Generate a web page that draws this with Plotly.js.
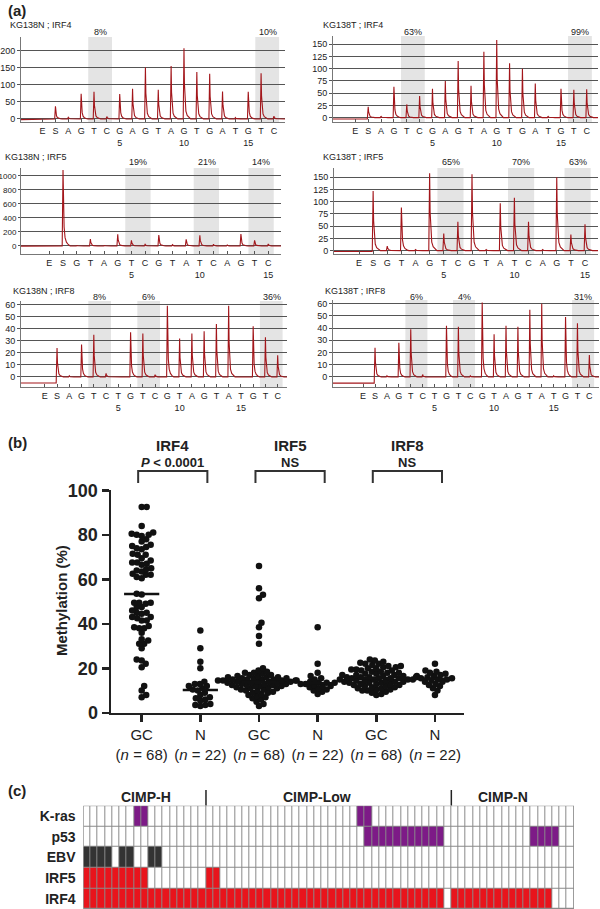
<!DOCTYPE html>
<html><head><meta charset="utf-8">
<script src="https://cdn.plot.ly/plotly-3.0.1.min.js"></script>
<style>html,body{margin:0;padding:0;background:#fff}#chart{width:600px;height:909px}</style>
</head><body><div id="chart"></div>
<script>
// ================= DATA =================
// Panel (a): pyrosequencing dispensation orders
const seqIRF4 = ['E','S','A','G','T','C','G','A','G','T','A','G','T','G','A','T','G','T','C'];
const seqIRF5 = ['E','S','G','T','A','G','T','C','G','T','A','T','C','A','G','T','C'];
const seqIRF8 = ['E','S','A','G','T','C','T','G','T','C','G','T','A','G','T','A','T','G','T','C'];
// peak heights per dispensation
const peaksN_IRF4 = [0,37,5,74,80,7,73,89,151,86,156,208,138,133,81,4,80,134,8];
const peaksT_IRF4 = [0,22,3,63,27,44,59,75,116,65,135,159,111,100,70,3,59,57,58];
const peaksN_IRF5 = [0,1080,10,100,10,165,80,24,156,19,95,152,24,14,170,80,28];
const peaksT_IRF5 = [0,122,9,88,2,158,35,59,156,2,97,108,59,2,150,33,54];
const peaksN_IRF8 = [0,24,1,27,35,3,0,37,36,2,59,32,36,38,44,59,0,42,33,18];
const peaksT_IRF8 = [0,24,1,28,39,2,0,42,41,1,61,35,42,41,55,60,1,49,44,18];
// baseline level before the substrate peak
const preBase = [-2,-3,-1.5,-2,-5,-5];
// CpG sites (first, last dispensation index) shaded
const cpgIRF4 = [[4,5],[17,18]];
const cpgIRF5 = [[6,7],[11,12],[15,16]];
const cpgIRF8 = [[4,5],[8,9],[18,19]];
const pctN_IRF4 = ['8%','10%'];
const pctT_IRF4 = ['63%','99%'];
const pctN_IRF5 = ['19%','21%','14%'];
const pctT_IRF5 = ['65%','70%','63%'];
const pctN_IRF8 = ['8%','6%','36%'];
const pctT_IRF8 = ['6%','4%','31%'];

// Panel (b): methylation (%)
const groupLabels = ['GC','N','GC','N','GC','N'];
const groupN = [68,22,68,22,68,22];
const geneLabels = ['IRF4','IRF5','IRF8'];
const geneTests = ['<i>P</i> < 0.0001','NS','NS'];
const irf4GC = [92.5,92.5,84,81,80.5,80,80,79.5,78,77,75.5,75,74.5,74,73.5,71.5,71,71,69.5,68.5,67.5,67.5,67,66.5,65,64.5,64,63.5,62.5,62,62,61,60.5,
  53.5,53.2,
  49.5,49.5,49.5,49,47.5,47.5,46,45,45,44.5,43,43,42.5,41.5,41.5,39,38.5,38,38,36,33,32.5,31,31,29,24,23.5,22,20.5,12,10,8,7];
const irf4N = [37,29,23,20,14,13,13,12,12,11,10.5,10,9,8,7,6.5,6,5.5,4,3.5,3.5,3];
const irf5GC = [66,56,53,51.5,40.5,38.5,34.5,31,
  20,19,18.5,18,18,17.5,17,17,16.5,16.5,16,16,16,15.5,15.5,15.5,15,15,15,15,14.5,14.5,14.5,14.5,14,14,
  14,14,13.5,13.5,13.5,13,13,13,12.5,12.5,12.5,12,12,12,11.5,11.5,11,11,10.5,10.5,10,10,9.5,9,9,8.5,8,7.5,7,6.5,6,5,4,3];
const irf5N = [38.5,22,18,16.5,15.5,15,14.5,14,13.5,13.5,13.5,13,13,12.5,12,12,11.5,11,10.5,10,9.5,8.5];
const irf8GC = [24,23.5,23,22.5,22,22,21.5,21,21,20.5,20.5,20,20,19.5,19.5,19,19,18.5,18.5,18,18,17.5,17.5,17,17,17,16.5,16.5,16.5,16,16,16,15.5,15.5,
  15.5,15.5,15,15,15,15,14.5,14.5,14.5,14,14,14,13.5,13.5,13.5,13,13,13,12.5,12.5,12,12,11.5,11.5,11,11,10.5,10.5,10,10,9.5,9,8.5,8];
const irf8N = [22,19,18.5,18,17.5,17,16.5,16,16,15.5,15.5,15,15,14.5,14,14,13,12.5,12,11,10,8];

// Panel (c): sample status grid (68 GC samples)
const rowLabels = ['K-ras','p53','EBV','IRF5','IRF4'];
const cimpGroups = ['CIMP-H','CIMP-Low','CIMP-N'];
const krasMut = [7,8,38,39];
const p53Mut = [39,40,41,42,43,44,45,46,47,48,49,62,63,64,65];
const ebvPos = [0,1,2,3,5,6,9,10];
const irf5Meth = [0,1,2,3,4,5,6,7,8,17,18];
const irf4Meth = [0,1,2,3,4,5,6,7,8,9,10,11,12,13,14,15,16,17,18,19,20,21,22,23,24,25,26,27,28,29,30,31,32,33,34,35,36,37,38,39,40,41,42,43,44,45,46,47,48,49,
  51,52,53,54,55,56,57,58,59,60,61,62,63,64];
const nSamples = 68;
const cimpBreaks = [17,51];

// ================= LAYOUT HELPERS =================
const W = 600, H = 909;
const px = v => v / W, py = v => 1 - v / H;
const FONT = 'Liberation Sans, Arial, Helvetica, sans-serif';
const TXT = '#222';
const PEAK_PROFILE = [[-0.06,0],[0,1],[0.035,0.5],[0.08,0.25],[0.15,0.11],[0.25,0.05],[0.38,0.02],[0.52,0]];

const traces = [], shapes = [], annotations = [];
const layout = {
  width: W, height: H, margin: {l:0, r:0, t:0, b:0},
  paper_bgcolor: '#fff', plot_bgcolor: 'rgba(0,0,0,0)',
  showlegend: false, hovermode: false,
  font: {family: FONT, color: TXT}
};
const sfx = k => (k === 1 ? '' : String(k));
function note(o) { annotations.push(Object.assign({showarrow:false, xanchor:'center', yanchor:'middle'}, o)); }

// ================= PANEL (a) =================
const pyroPanels = [
  {title:'KG138N ; IRF4', seq:seqIRF4, peaks:peaksN_IRF4, cpg:cpgIRF4, pct:pctN_IRF4, pre:preBase[0],
   xpx:[21,285], ypx:[37,122], xr:[-1.68,18.86], yr:[-9,241], dtick:50, tpos:[8,25], pcty:32, yfs:9},
  {title:'KG138T ; IRF4', seq:seqIRF4, peaks:peaksT_IRF4, cpg:cpgIRF4, pct:pctT_IRF4, pre:preBase[1],
   xpx:[333,598], ypx:[36,122], xr:[-1.74,18.88], yr:[-9,167], dtick:25, tpos:[320.7,25], pcty:32, yfs:9},
  {title:'KG138N ; IRF5', seq:seqIRF5, peaks:peaksN_IRF5, cpg:cpgIRF5, pct:pctN_IRF5, pre:preBase[2],
   xpx:[21,281], ypx:[168,254], xr:[-2.07,16.93], yr:[-114,1110], dtick:200, tpos:[3.3,156.7], pcty:162, yfs:8},
  {title:'KG138T ; IRF5', seq:seqIRF5, peaks:peaksT_IRF5, cpg:cpgIRF5, pct:pctT_IRF5, pre:preBase[3],
   xpx:[334,598], ypx:[168,254], xr:[-1.77,16.92], yr:[-7,169], dtick:25, tpos:[320.7,156.7], pcty:162, yfs:9},
  {title:'KG138N ; IRF8', seq:seqIRF8, peaks:peaksN_IRF8, cpg:cpgIRF8, pct:pctN_IRF8, pre:preBase[4],
   xpx:[21,287], ypx:[301,387], xr:[-1.94,19.76], yr:[-8.3,63], dtick:10, tpos:[11,291.3], pcty:297, yfs:9},
  {title:'KG138T ; IRF8', seq:seqIRF8, peaks:peaksT_IRF8, cpg:cpgIRF8, pct:pctT_IRF8, pre:preBase[5],
   xpx:[333,599], ypx:[300,387], xr:[-2.53,19.81], yr:[-8.2,63], dtick:10, tpos:[322.7,291.3], pcty:297, yfs:9}
];

pyroPanels.forEach((p, idx) => {
  const k = idx + 1, s = sfx(k);
  layout['xaxis' + s] = {
    domain: [px(p.xpx[0]), px(p.xpx[1])], anchor: 'y' + s, range: p.xr,
    tickmode: 'array', tickvals: p.seq.map((_, i) => i),
    ticktext: p.seq.map((c, i) => (i > 1 && (i - 1) % 5 === 0) ? c + '<br>' + (i - 1) : c),
    tickangle: 0, tickfont: {size: 9, color: TXT},
    showline: true, linecolor: '#777', linewidth: 1,
    ticks: 'inside', ticklen: 3, tickcolor: '#555',
    showgrid: false, zeroline: false, fixedrange: true
  };
  layout['yaxis' + s] = {
    domain: [py(p.ypx[1]), py(p.ypx[0])], anchor: 'x' + s, range: p.yr,
    tick0: 0, dtick: p.dtick, tickfont: {size: p.yfs, color: TXT},
    showgrid: true, gridcolor: '#555', gridwidth: 1, zeroline: false,
    showline: true, linecolor: '#777', linewidth: 1,
    ticks: 'outside', ticklen: p.yfs < 9 ? 2 : 3, tickcolor: '#555', fixedrange: true
  };
  // signal trace
  const xs = [p.xr[0], 1 - 0.07], ys = [p.pre, p.pre];
  p.peaks.forEach((h, i) => {
    if (i === 0) return;
    PEAK_PROFILE.forEach(([dx, f]) => { xs.push(i + dx); ys.push(h * f); });
  });
  xs.push(p.xr[1]); ys.push(0);
  traces.push({type:'scatter', mode:'lines', x: xs, y: ys, xaxis:'x' + s, yaxis:'y' + s,
    line:{color:'#a3161b', width:1.1}, hoverinfo:'skip'});
  // CpG bands and % labels
  p.cpg.forEach(([a, b], j) => {
    shapes.push({type:'rect', xref:'x' + s, yref:'y' + s + ' domain', x0:a - 0.45, x1:b + 0.4, y0:0, y1:1,
      fillcolor:'#e4e4e4', line:{width:0}, layer:'below'});
    note({xref:'x' + s, yref:'paper', x:(a + b) / 2, y:py(p.pcty), text:p.pct[j], font:{size:9, color:TXT}});
  });
  note({xref:'paper', yref:'paper', x:px(p.tpos[0]), y:py(p.tpos[1]), xanchor:'left',
    text:p.title, font:{size:9, color:TXT}});
});

// ================= PANEL (b) =================
const groups = [irf4GC, irf4N, irf5GC, irf5N, irf8GC, irf8N];
const XPU = 353 / 6.018, YPU = 222.5 / 100;   // px per data unit of the scatter axes
const DOT = 4.9;                               // collision distance in px
function swarm(vals, center) {
  const placed = [], xs = [], ys = [];
  [...vals].sort((a, b) => a - b).forEach((v, n) => {
    const y = v * YPU;
    let best = 0;
    search:
    for (let k = 0; k < 400; k++) {
      const signs = k === 0 ? [1] : (n % 2 ? [1, -1] : [-1, 1]);
      for (const sg of signs) {
        const x = sg * k * 0.5;
        if (placed.every(p => (p.x - x) ** 2 + (p.y - y) ** 2 >= DOT * DOT)) { best = x; break search; }
      }
    }
    placed.push({x: best, y});
    xs.push(center + best / XPU); ys.push(v);
  });
  return {xs, ys};
}
function median(a) {
  const s = [...a].sort((x, y) => x - y), n = s.length;
  return n % 2 ? s[(n - 1) / 2] : (s[n / 2 - 1] + s[n / 2]) / 2;
}
groups.forEach((g, i) => {
  const c = i + 1, sw = swarm(g, c);
  traces.push({type:'scatter', mode:'markers', x: sw.xs, y: sw.ys, xaxis:'x7', yaxis:'y7',
    marker:{size:6.5, color:'#111'}, cliponaxis:false, hoverinfo:'skip'});
  const m = median(g);
  traces.push({type:'scatter', mode:'lines', x:[c - 0.3, c + 0.3], y:[m, m], xaxis:'x7', yaxis:'y7',
    line:{color:'#111', width:2.5}, hoverinfo:'skip'});
});
layout.xaxis7 = {
  domain:[px(111), px(464)], anchor:'y7', range:[0.477, 6.495],
  tickmode:'array', tickvals:[1,2,3,4,5,6],
  ticktext: groupLabels.map((l, i) => l + '<br>(<i>n</i> = ' + groupN[i] + ')'),
  tickangle:0, tickfont:{size:15, color:TXT},
  ticks:'outside', ticklen:7, tickwidth:2.5, tickcolor:TXT,
  showline:true, linewidth:2.5, linecolor:TXT, showgrid:false, zeroline:false, fixedrange:true
};
layout.yaxis7 = {
  domain:[py(712.8), py(490.3)], anchor:'x7', range:[0, 100],
  tickmode:'array', tickvals:[0,20,40,60,80,100],
  tickfont:{size:18, color:TXT, weight:'bold'},
  ticks:'outside', ticklen:7, tickwidth:2.5, tickcolor:TXT,
  showline:true, linewidth:2.5, linecolor:TXT, showgrid:false, zeroline:false, fixedrange:true
};
note({xref:'paper', yref:'paper', x:px(61), y:py(601), text:'Methylation (%)', textangle:-90,
  font:{size:15, color:TXT, weight:'bold'}});
geneLabels.forEach((gname, j) => {
  const x0 = 2 * j + 1 - 0.06, x1 = 2 * j + 2 + 0.12, xc = (x0 + x1) / 2;
  shapes.push({type:'path', xref:'x7', yref:'paper',
    path:`M ${x0},${py(483)} L ${x0},${py(471)} L ${x1},${py(471)} L ${x1},${py(483)}`,
    line:{color:'#333', width:2}});
  note({xref:'x7', yref:'paper', x:xc, y:py(445), text:gname, font:{size:15, color:TXT, weight:'bold'}});
  note({xref:'x7', yref:'paper', x:xc, y:py(462.5), text:geneTests[j], font:{size:13, color:TXT, weight:'bold'}});
});

// ================= PANEL (c) =================
const statusRows = [
  {cols:krasMut, code:1}, {cols:p53Mut, code:1}, {cols:ebvPos, code:2},
  {cols:irf5Meth, code:3}, {cols:irf4Meth, code:3}
];
const colIdx = Array.from({length:nSamples}, (_, i) => i);
const z = statusRows.map(r => colIdx.map(c => (r.cols.includes(c) ? r.code : 0)));
traces.push({type:'heatmap', x: colIdx, y:[0,1,2,3,4], z: z, xaxis:'x8', yaxis:'y8',
  zmin:0, zmax:3, showscale:false, xgap:1, ygap:1, hoverinfo:'skip',
  colorscale:[[0,'#ffffff'],[0.166,'#ffffff'],[0.166,'#7d1b87'],[0.5,'#7d1b87'],
              [0.5,'#333333'],[0.833,'#333333'],[0.833,'#e8141c'],[1,'#e8141c']]});
layout.xaxis8 = {domain:[px(83.3), px(574)], anchor:'y8', range:[-0.5, nSamples - 0.5],
  showticklabels:false, ticks:'', showline:false, showgrid:false, zeroline:false, fixedrange:true};
layout.yaxis8 = {domain:[0, py(805.7)], anchor:'x8', range:[4.5, -0.5],
  tickmode:'array', tickvals:[0,1,2,3,4], ticktext:rowLabels,
  tickfont:{size:14, color:TXT, weight:'bold'}, ticks:'outside', ticklen:4, tickcolor:'rgba(0,0,0,0)',
  showline:false, showgrid:false, zeroline:false, fixedrange:true};
shapes.push({type:'rect', xref:'x8', yref:'y8', x0:-0.5, x1:nSamples - 0.5, y0:-0.5, y1:4.5,
  fillcolor:'#8a8a8a', line:{width:0}, layer:'below'});
shapes.push({type:'rect', xref:'x8', yref:'y8', x0:-0.5, x1:nSamples - 0.5, y0:-0.5, y1:4.5,
  fillcolor:'rgba(0,0,0,0)', line:{color:'#8a8a8a', width:1}, layer:'above'});
cimpBreaks.forEach(b => shapes.push({type:'line', xref:'x8', yref:'paper', x0:b - 0.5, x1:b - 0.5,
  y0:py(805.5), y1:py(790), line:{color:'#222', width:1.5}}));
const cimpCenters = [146, 317, 502.5];
cimpGroups.forEach((t, i) => note({xref:'paper', yref:'paper', x:px(cimpCenters[i]), y:py(797),
  text:t, font:{size:14, color:TXT, weight:'bold'}}));

// panel letters
[['(a)', 11], ['(b)', 443], ['(c)', 790]].forEach(([t, y]) => note({
  xref:'paper', yref:'paper', x:px(6), y:py(y), xanchor:'left', text:t,
  font:{size:15, color:TXT, weight:'bold'}}));

layout.shapes = shapes;
layout.annotations = annotations;
Plotly.newPlot('chart', traces, layout, {staticPlot:true, displayModeBar:false});
</script>
</body></html>
